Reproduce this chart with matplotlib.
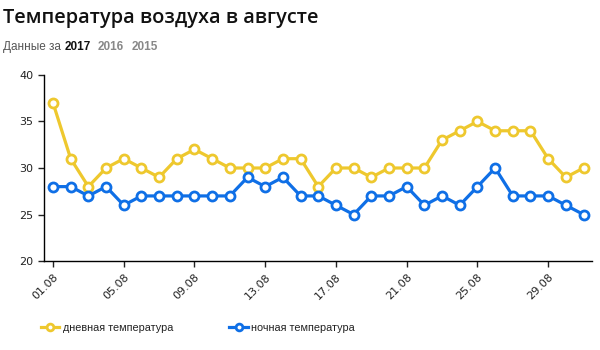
import numpy as np
import matplotlib.pyplot as plt

days = list(range(1, 32))
day_temp = [37, 31, 28, 30, 31, 30, 29, 31, 32, 31, 30, 30, 30, 31, 31, 28,
            30, 30, 29, 30, 30, 30, 33, 34, 35, 34, 34, 34, 31, 29, 30]
night_temp = [28, 28, 27, 28, 26, 27, 27, 27, 27, 27, 27, 29, 28, 29, 27, 27,
              26, 25, 27, 27, 28, 26, 27, 26, 28, 30, 27, 27, 27, 26, 25]
tick_days = [1, 5, 9, 13, 17, 21, 25, 29]
tick_labels = ["%02d.08" % d for d in tick_days]

yellow = "#EEC82E"
blue = "#0F6FE6"

fig = plt.figure(figsize=(6, 3.5), dpi=100)
ax = fig.add_axes([0.0733, 0.254, 0.914, 0.532])

l1, = ax.plot(days, day_temp, color=yellow, lw=2.3, marker="o", ms=6.5,
              mfc="white", mec=yellow, mew=2, label="дневная температура")
l2, = ax.plot(days, night_temp, color=blue, lw=2.3, marker="o", ms=6.5,
              mfc="white", mec=blue, mew=2, label="ночная температура")

ax.set_xlim(0.49, 31.5)
ax.set_ylim(20, 40)
ax.set_yticks([20, 25, 30, 35, 40])
ax.set_xticks(tick_days)
ax.set_xticklabels(tick_labels, rotation=45, ha="right", rotation_mode="anchor")
ax.tick_params(labelsize=8, colors="#222222", length=4, width=1)
for s in ["top", "right"]:
    ax.spines[s].set_visible(False)
for s in ["left", "bottom"]:
    ax.spines[s].set_color("black")
    ax.spines[s].set_linewidth(1)

fig.text(0.005, 0.95, "Температура воздуха в августе", fontsize=14.4,
         fontweight="semibold", family="Open Sans", color="#111111", va="center")
sub = dict(fontsize=8.5, family="Liberation Sans", va="center")
fig.text(0.005, 0.866, "Данные за", color="#555555", **sub)
fig.text(0.108, 0.866, "2017", fontweight="bold", color="#111111", **sub)
fig.text(0.163, 0.866, "2016", fontweight="bold", color="#888888", **sub)
fig.text(0.22, 0.866, "2015", fontweight="bold", color="#888888", **sub)

leg = fig.legend(handles=[l1, l2], loc="center left", bbox_to_anchor=(0.052, 0.063),
                 ncol=2, frameon=False, prop={"family": "Liberation Sans", "size": 7.8},
                 handlelength=1.7, columnspacing=5.2, handletextpad=0.3,
                 markerscale=0.75)
for t in leg.get_texts():
    t.set_color("#222222")

fig.savefig("out.png", dpi=100)
